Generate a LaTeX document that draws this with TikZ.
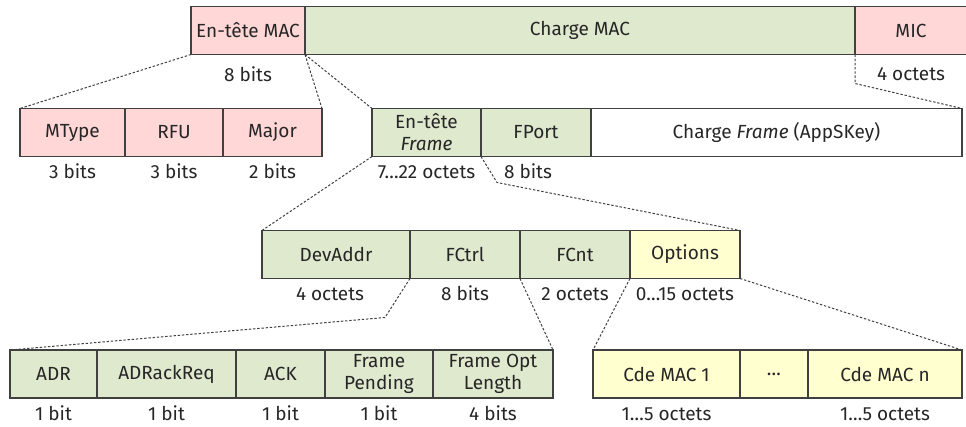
\documentclass[tikz,border=0pt]{standalone}
\usepackage{fontspec}
\setmainfont{Fira Sans}
\usetikzlibrary{positioning}
\definecolor{hdrpink}{RGB}{255,215,215}
\definecolor{paygreen}{RGB}{222,233,206}
\definecolor{optyellow}{RGB}{255,255,208}
\definecolor{edgegray}{RGB}{64,64,64}

\begin{document}
\begin{tikzpicture}[x=0.5pt, y=-0.5pt, node distance=0pt, font=\fontsize{9.5}{11}\selectfont,
    wd/.style={minimum width=#1*0.5pt}]
  \tikzstyle{field} = [rectangle, draw=edgegray, line width=0.6pt, outer sep=0pt, inner sep=1pt, minimum height=24pt, align=center, text=black!85]
  \tikzstyle{hdr} = [field, fill=hdrpink]
  \tikzstyle{pay} = [field, fill=paygreen]
  \tikzstyle{opt} = [field, fill=optyellow]
  \tikzstyle{size} = [inner sep=0pt, text height=7pt, text depth=0pt, text=black!85]
  \tikzstyle{zoomln} = [draw=edgegray, line width=0.5pt, dash pattern=on 1.2pt off 0.9pt]

  \useasboundingbox (0,0) rectangle (966,427);

  % trame MAC
  \node[hdr, wd=114, anchor=west] (mhdr) at (191,30.5) {En-tête MAC};
  \node[pay, wd=550, right=of mhdr] (mpay) {Charge MAC};
  \node[hdr, wd=112, right=of mpay] (mic) {MIC};
  \node[size, below=6.5pt of mhdr] (mhdrsz) {8 bits};
  \node[size, below=6pt of mic] (micsz) {4 octets};

  % en-tete MAC
  \node[hdr, wd=105, anchor=west] (mtype) at (20,132.5) {MType};
  \node[hdr, wd=98, right=of mtype] (rfu) {RFU};
  \node[hdr, wd=99, right=of rfu] (major) {Major};
  \node[size, below=4pt of mtype] (mtypesz) {3 bits};
  \node[size, below=4pt of rfu] (rfusz) {3 bits};
  \node[size, below=4pt of major] (majorsz) {2 bits};

  % charge MAC
  \node[pay, wd=109, anchor=west] (fhdr) at (372,132.5) {En-tête\\\textit{Frame}};
  \node[pay, wd=110, right=of fhdr] (fport) {FPort};
  \node[field, wd=371, right=of fport] (fpay) {Charge \textit{Frame} (AppSKey)};
  \node[size, below=4pt of fhdr] (fhdrsz) {7…22 octets};
  \node[size, below=4pt of fport, xshift=-4pt] (fportsz) {8 bits};

  % en-tete Frame
  \node[pay, wd=148, anchor=west] (devaddr) at (262,254.5) {DevAddr};
  \node[pay, wd=110, right=of devaddr] (fctrl) {FCtrl};
  \node[pay, wd=110, right=of fctrl] (fcnt) {FCnt};
  \node[opt, wd=110, right=of fcnt] (opts) {Options};
  \node[size, below=4pt of devaddr, xshift=-3pt] (devaddrsz) {4 octets};
  \node[size, below=4pt of fctrl] (fctrlsz) {8 bits};
  \node[size, below=4pt of fcnt] (fcntsz) {2 octets};
  \node[size, below=4pt of opts] (optssz) {0…15 octets};

  % FCtrl
  \node[pay, wd=87, anchor=west] (adr) at (10,374) {ADR};
  \node[pay, wd=139, right=of adr] (adrack) {ADRackReq};
  \node[pay, wd=89, right=of adrack] (ack) {ACK};
  \node[pay, wd=108, right=of ack] (fpend) {Frame\\Pending};
  \node[pay, wd=120, right=of fpend] (foptlen) {Frame Opt\\Length};
  \node[size, below=4pt of adr] (adrsz) {1 bit};
  \node[size, below=4pt of adrack] (adracksz) {1 bit};
  \node[size, below=4pt of ack] (acksz) {1 bit};
  \node[size, below=4pt of fpend] (fpendsz) {1 bit};
  \node[size, below=4pt of foptlen] (foptlensz) {4 bits};

  % options
  \node[opt, wd=147, anchor=west] (cmd1) at (593,374) {Cde MAC 1};
  \node[opt, wd=68, right=of cmd1] (cmddots) {…};
  \node[opt, wd=154, right=of cmddots] (cmdn) {Cde MAC n};
  \node[size, below=4pt of cmd1] (cmd1sz) {1…5 octets};
  \node[size, below=4pt of cmdn] (cmdnsz) {1…5 octets};

  % lignes de zoom
  \draw[zoomln] (mhdr.south west) -- (mtype.north west);
  \draw[zoomln] (mhdr.south east) -- (major.north east);
  \draw[zoomln] (mhdr.south east) -- (fhdr.north west);
  \draw[zoomln] (mic.south west) -- ++(0,29) -- (fpay.north east);
  \draw[zoomln] (fhdr.south west) -- (devaddr.north west);
  \draw[zoomln] (fhdr.south east) -- ++(16,26) -- (opts.north east);
  \draw[zoomln] (fctrl.south west) -- ++(-25,39) -- (adr.north west);
  \draw[zoomln] (fcnt.south west) -- (foptlen.north east);
  \draw[zoomln] (opts.south west) -- (cmd1.north west);
  \draw[zoomln] (opts.south east) -- (cmdn.north east);
\end{tikzpicture}
\end{document}
